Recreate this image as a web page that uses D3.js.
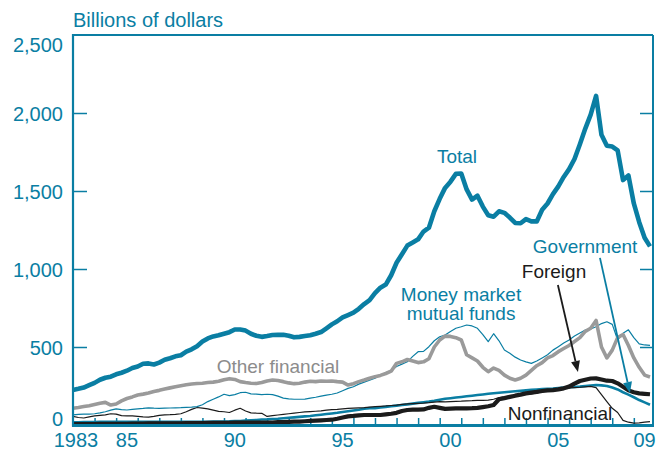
<!DOCTYPE html>
<html>
<head>
<meta charset="utf-8">
<script src="https://cdn.jsdelivr.net/npm/d3@7"></script>
<style>
  html, body { margin: 0; padding: 0; background: #fff; }
  svg { display: block; font-family: "Liberation Sans", Arial, Helvetica, sans-serif; }
</style>
</head>
<body>
<svg id="chart" width="657" height="452"></svg>
<script>
// ---------- DATA (quarterly, billions of dollars) ----------
const years = [1983,1984,1985,1986,1987,1988,1989,1990,1991,1992,1993,1994,1995,1996,
               1997,1998,1999,2000,2001,2002,2003,2004,2005,2006,2007,2008,2009];
const quarters = years.flatMap(y => [y, y + 0.25, y + 0.5, y + 0.75]);

const total = [
  225, 232, 240, 255,   270, 290, 303, 310,   325, 335, 348, 365,   375, 393, 395, 388,
  400, 418, 428, 440,   447, 470, 485, 505,   535, 555, 568, 575,   585, 595, 612, 612,
  605, 585, 572, 565,   570, 577, 578, 578,   572, 562, 565, 570,   575, 585, 596, 620,
  645, 665, 690, 705,   720, 745, 775, 800,   845, 880, 900, 960,   1040, 1095, 1150, 1170,
  1190, 1240, 1265, 1370, 1450, 1520, 1560, 1610, 1612, 1510, 1445, 1470, 1400, 1345, 1335, 1370,
  1360, 1330, 1295, 1293, 1320, 1305, 1305, 1380, 1420, 1480, 1530, 1590, 1640, 1705, 1800, 1900,
  1990, 2110, 1860, 1790, 1785, 1760, 1570, 1600, 1420, 1300, 1200, 1145
];
const otherFinancial = [
  107, 112, 118, 124,   132, 140, 145, 128,   135, 155, 170, 180,   192, 198, 205, 215,
  222, 230, 238, 245,   252, 258, 263, 266,   268, 272, 275, 280,   290, 297, 292, 278,
  272, 268, 266, 272,   282, 288, 285, 278,   270, 265, 268, 275,   280, 278, 282, 280,
  282, 278, 275, 256,   265, 278, 288, 300,   310, 318, 330, 345,   395, 405, 420, 410,
  400, 405, 425, 500,   545, 570, 568, 560,   545, 450, 430, 410,   370, 342, 365, 350,
  320, 300, 288, 300,   320, 350, 380, 400,   430, 445, 470, 490,   510, 535, 560, 600,
  620, 670, 500, 430,   480, 560, 580, 510,   430, 370, 320, 308
];
const moneyMarket = [
  65, 68, 70, 70,       72, 78, 85, 95,       103, 98, 96, 100,     103, 106, 110, 108,
  107, 108, 109, 110,   111, 113, 115, 118,   130, 150, 165, 180,   197, 188, 195, 207,
  210, 200, 198, 195,   197, 195, 185, 172,   168, 165, 165, 166,   172, 178, 185, 192,
  197, 205, 220, 235,   245, 262, 275, 288,   300, 320, 335, 350,   375, 390, 405, 440,
  470, 472, 502, 540,   566, 577, 600, 620,   630, 641, 635, 620,   580, 534, 585, 540,
  481, 460, 435, 417,   405, 395, 410, 430,   450, 480, 502, 525,   545, 570, 590, 609,
  615, 630, 650, 662,   645, 545, 588, 610,   560, 520, 513, 510
];
const government = [
  18, 18, 19, 19,       19, 20, 20, 20,       20, 20, 21, 21,       21, 21, 21, 21,
  21, 21, 21, 21,       21, 21, 21, 21,       21, 21, 22, 22,       22, 23, 25, 26,
  28, 30, 32, 35,       36, 38, 40, 43,       46, 49, 52, 55,       58, 62, 66, 70,
  74, 78, 83, 88,       93, 98, 104, 108,     107, 112, 116, 120,   124, 128, 132, 137,
  142, 146, 150, 155,   162, 168, 172, 176,   180, 184, 188, 192,   196, 200, 204, 207,
  210, 213, 216, 219,   222, 225, 228, 230,   232, 234, 237, 240,   242, 244, 246, 250,
  253, 256, 254, 250,   240, 228, 210, 195,   178, 160, 145, 130
];
const foreign = [
  5, 5, 6, 6,           6, 7, 7, 7,           8, 8, 8, 9,           9, 9, 10, 10,
  10, 10, 11, 11,       11, 12, 12, 12,       12, 13, 13, 14,       14, 14, 15, 15,
  15, 15, 15, 15,       15, 16, 18, 19,       20, 21, 22, 24,       26, 28, 30, 32,
  34, 40, 48, 55,       58, 62, 64, 64,       64, 64, 68, 72,       78, 90, 96, 98,
  98, 100, 110, 117,    110, 103, 105, 107,   107, 107, 108, 110,   115, 120, 128, 165,
  172, 180, 188, 195,   203, 208, 212, 218,   222, 224, 228, 235,   246, 265, 282, 290,
  298, 299, 292, 284,   282, 267, 245, 222,   210, 203, 200, 197
];
const nonfinancial = [
  55, 48, 45, 52,       58, 62, 65, 72,       70, 60, 58, 58,       55, 52, 50, 55,
  62, 65, 66, 68,       72, 85, 100, 112,     108, 103, 95, 87,     85, 80, 95, 107,
  90, 78, 76, 75,       55, 60, 64, 68,       72, 76, 80, 84,       86, 88, 90, 95,
  98, 100, 103, 106,    108, 110, 112, 115,   118, 120, 122, 125,   128, 132, 135, 137,
  139, 140, 143, 147,   150, 148, 150, 152,   153, 155, 156, 158,   158, 160, 165, 175,
  180, 185, 190, 195,   197, 200, 205, 212,   218, 222, 228, 235,   238, 240, 242, 245,
  248, 240, 195, 150,   107, 80, 30, 18,      12, 14, 18, 22
];

const yTicks = [0, 500, 1000, 1500, 2000, 2500];
const yTickLabels = ["0", "500", "1,000", "1,500", "2,000", "2,500"];
const xLabelYears = [1983, 1985, 1990, 1995, 2000, 2005, 2009];
const xTickLabels = ["1983", "85", "90", "95", "00", "05", "09"];

// ---------- STYLE ----------
const TEAL = "#0a7ea3";
const GRAY = "#9a9a9a";
const BLACK = "#1b1b1b";

const svg = d3.select("#chart");
const x = d3.scaleLinear().domain([1983, 2009.75]).range([73, 650]);
const y = d3.scaleLinear().domain([0, 2500]).range([425, 35]);
const xRight = 653;

// ---------- FRAME ----------
const frame = svg.append("g");
frame.append("line").attr("x1", 73).attr("x2", xRight).attr("y1", y(2500)).attr("y2", y(2500))
  .attr("stroke", TEAL).attr("stroke-width", 2);
frame.append("line").attr("x1", xRight).attr("x2", xRight).attr("y1", y(2500)).attr("y2", y(0))
  .attr("stroke", TEAL).attr("stroke-width", 2);

// left ticks (inward)
const leftAxis = d3.axisLeft(y).tickValues([500, 1000, 1500, 2000]).tickSize(-14).tickFormat("");
const gl = svg.append("g").attr("transform", "translate(73,0)").call(leftAxis);
gl.select(".domain").remove();
gl.selectAll(".tick line").attr("stroke", TEAL).attr("stroke-width", 1.5);

// right ticks (inward)
const rightAxis = d3.axisRight(y).tickValues([500, 1000, 1500, 2000]).tickSize(-13).tickFormat("");
const gr = svg.append("g").attr("transform", `translate(${xRight},0)`).call(rightAxis);
gr.select(".domain").remove();
gr.selectAll(".tick line").attr("stroke", TEAL).attr("stroke-width", 1.5);

// bottom ticks (inward)
const bottomAxis = d3.axisBottom(x).tickValues(years.slice(1)).tickSize(-7).tickFormat("");
const gb = svg.append("g").attr("transform", `translate(0,${y(0)})`).call(bottomAxis);
gb.select(".domain").remove();
gb.selectAll(".tick line").attr("stroke", TEAL).attr("stroke-width", 1.5);

// ---------- LINES ----------
const line = d3.line().x((d, i) => x(quarters[i])).y(d => y(d)).curve(d3.curveLinear);
const series = [
  { values: government,     color: TEAL,  width: 2.6 },
  { values: nonfinancial,   color: BLACK, width: 1.2 },
  { values: foreign,        color: BLACK, width: 4.2 },
  { values: moneyMarket,    color: TEAL,  width: 1.2 },
  { values: otherFinancial, color: GRAY,  width: 3.6 },
  { values: total,          color: TEAL,  width: 4.6 }
];
svg.append("g").selectAll("path").data(series).join("path")
  .attr("d", d => line(d.values))
  .attr("fill", "none")
  .attr("stroke", d => d.color)
  .attr("stroke-width", d => d.width)
  .attr("stroke-linejoin", "round")
  .attr("stroke-linecap", "butt");

// left & bottom axis lines on top
svg.append("line").attr("x1", 73).attr("x2", 73).attr("y1", y(2500) - 1).attr("y2", y(0) + 1.5)
  .attr("stroke", TEAL).attr("stroke-width", 2.2);
svg.append("line").attr("x1", 72).attr("x2", xRight + 1).attr("y1", y(0) + 0.5).attr("y2", y(0) + 0.5)
  .attr("stroke", TEAL).attr("stroke-width", 2.8);

// ---------- AXIS LABELS ----------
const yLabelShift = { 0: -7, 2500: 9 };
svg.append("g").selectAll("text").data(yTicks).join("text")
  .attr("x", 63)
  .attr("y", d => y(d) + 7.5 + (yLabelShift[d] || 0))
  .attr("text-anchor", "end")
  .attr("fill", TEAL)
  .style("font-size", "20px")
  .text((d, i) => yTickLabels[i]);

svg.append("g").selectAll("text").data(xLabelYears).join("text")
  .attr("x", (d, i) => i === 0 ? x(d) + 3 : x(d + 0.5))
  .attr("y", 447)
  .attr("text-anchor", "middle")
  .attr("fill", TEAL)
  .style("font-size", "20px")
  .text((d, i) => xTickLabels[i]);

svg.append("text").attr("x", 73).attr("y", 27)
  .attr("fill", TEAL).style("font-size", "20px").text("Billions of dollars");

// ---------- ANNOTATIONS ----------
const labels = [
  { t: 2000.8,  v: 1680, text: "Total",           color: TEAL },
  { t: 2006.74, v: 1103, text: "Government",      color: TEAL },
  { t: 2005.3,  v: 942,  text: "Foreign",         color: BLACK },
  { t: 2000.99, v: 795,  text: "Money market",    color: TEAL },
  { t: 2000.99, v: 673,  text: "mutual funds",    color: TEAL },
  { t: 1992.5,  v: 333,  text: "Other financial", color: "#8c8c8c" },
  { t: 2005.58, v: 32,   text: "Nonfinancial",    color: BLACK }
];
svg.append("g").selectAll("text").data(labels).join("text")
  .attr("x", d => x(d.t)).attr("y", d => y(d.v))
  .attr("text-anchor", "middle")
  .attr("fill", d => d.color)
  .style("font-size", "19px")
  .text(d => d.text);

// arrows
const arrows = [
  { from: [2005.48, 897],  to: [2006.41, 340], color: BLACK, width: 1.8 },
  { from: [2007.43, 1071], to: [2008.82, 205], color: TEAL,  width: 1.8 }
];
arrows.forEach(a => {
  const x1 = x(a.from[0]), y1 = y(a.from[1]), x2 = x(a.to[0]), y2 = y(a.to[1]);
  const ang = Math.atan2(y2 - y1, x2 - x1);
  const len = 11, half = 4.5;
  const bx = x2 - len * Math.cos(ang), by = y2 - len * Math.sin(ang);
  svg.append("line").attr("x1", x1).attr("y1", y1).attr("x2", bx).attr("y2", by)
    .attr("stroke", a.color).attr("stroke-width", a.width);
  const p1 = [bx + half * Math.sin(ang), by - half * Math.cos(ang)];
  const p2 = [bx - half * Math.sin(ang), by + half * Math.cos(ang)];
  svg.append("path").attr("d", `M${x2},${y2}L${p1[0]},${p1[1]}L${p2[0]},${p2[1]}Z`)
    .attr("fill", a.color);
});
</script>
</body>
</html>
